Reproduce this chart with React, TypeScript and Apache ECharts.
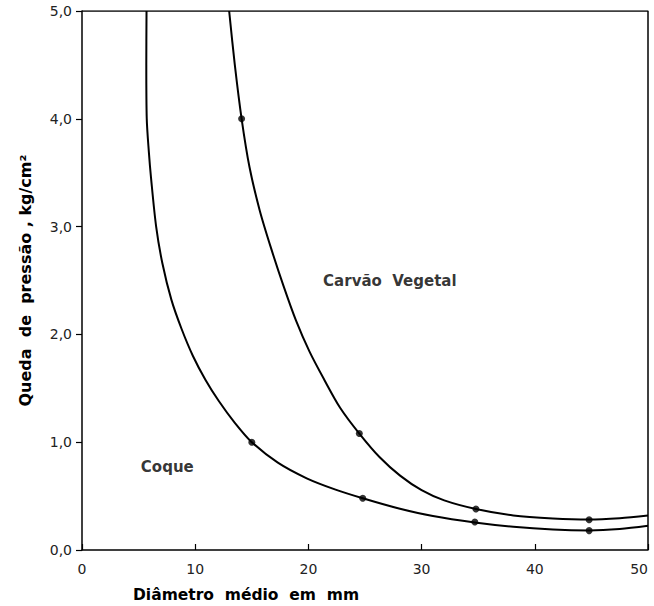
import React, { useEffect, useRef } from "react";
import * as echarts from "echarts";

const xTicks = [0, 10, 20, 30, 40, 50];
const yTicks = [0, 1, 2, 3, 4, 5];

const coqueCurve: [number, number][] = [
  [5.7, 5.0], [5.68, 4.5], [5.72, 4.0], [5.9, 3.7], [6.1, 3.45], [6.55, 3.0],
  [7.1, 2.66], [7.9, 2.32], [8.8, 2.05], [9.8, 1.8], [10.9, 1.58], [12.1, 1.38],
  [13.5, 1.18], [15.0, 1.0], [17.3, 0.81], [19.85, 0.665], [22.4, 0.56], [24.8, 0.48],
  [28.0, 0.385], [31.0, 0.315], [34.7, 0.255], [38.1, 0.215], [41.6, 0.19], [44.8, 0.182],
  [47.5, 0.195], [50.0, 0.225],
];

const carvaoCurve: [number, number][] = [
  [13.0, 5.0], [13.5, 4.5], [14.1, 4.0], [14.8, 3.55], [15.7, 3.15], [16.7, 2.8],
  [17.8, 2.45], [18.9, 2.13], [20.1, 1.84], [21.4, 1.58], [22.8, 1.32], [24.5, 1.08],
  [26.3, 0.86], [28.1, 0.69], [30.0, 0.555], [32.0, 0.46], [34.8, 0.38], [38.1, 0.32],
  [41.6, 0.292], [44.8, 0.282], [47.5, 0.295], [50.0, 0.32],
];

const coquePoints: [number, number][] = [[15, 1.0], [24.8, 0.48], [34.7, 0.26], [44.8, 0.18]];
const carvaoPoints: [number, number][] = [[14.1, 4.0], [24.5, 1.08], [34.8, 0.38], [44.8, 0.28]];

const curveLabels: { name: string; pos: [number, number] }[] = [
  { name: "Carvão  Vegetal", pos: [21.3, 2.5] },
  { name: "Coque", pos: [5.2, 0.77] },
];

const xTitle = "Diâmetro  médio  em  mm";
const yTitle = "Queda  de  pressão , kg/cm²";

export default function App() {
  const ref = useRef<HTMLDivElement>(null);
  useEffect(() => {
    if (!ref.current) return;
    document.body.style.margin = "0";
    document.body.style.overflow = "hidden";
    const chart = echarts.init(ref.current, null, { renderer: "svg" });
    const font = "'DejaVu Sans', sans-serif";
    chart.setOption({
      animation: false,
      backgroundColor: "#fff",
      grid: { left: 82, right: 6, top: 11, bottom: 56, containLabel: false, outerBoundsMode: "none" },
      xAxis: {
        type: "value",
        min: xTicks[0],
        max: xTicks[xTicks.length - 1],
        interval: 10,
        axisLine: { show: true, onZero: false, lineStyle: { color: "#000", width: 1.5 } },
        axisTick: { show: true, inside: true, length: 6, lineStyle: { color: "#000", width: 1.2 } },
        axisLabel: { color: "#222", fontFamily: font, fontSize: 14, margin: 12, alignMaxLabel: "right" },
        splitLine: { show: false },
      },
      yAxis: {
        type: "value",
        min: yTicks[0],
        max: yTicks[yTicks.length - 1],
        interval: 1,
        axisLine: { show: true, onZero: false, lineStyle: { color: "#000", width: 1.5 } },
        axisTick: { show: true, inside: false, length: 6, lineStyle: { color: "#000", width: 1.2 } },
        axisLabel: {
          color: "#222", fontFamily: font, fontSize: 14, margin: 10,
          formatter: (v: number) => v.toFixed(1).replace(".", ","),
        },
        splitLine: { show: false },
        name: yTitle,
        nameLocation: "middle",
        nameGap: 49,
        nameRotate: 90,
        nameTextStyle: { color: "#000", fontFamily: font, fontSize: 16, fontWeight: "bold" },
      },
      graphic: [
        {
          type: "text",
          x: 133,
          y: 595,
          style: {
            text: xTitle,
            fill: "#000",
            font: "bold 15.5px 'DejaVu Sans', sans-serif",
            verticalAlign: "middle",
            align: "left",
          },
        },
      ],
      series: [
        {
          type: "line", data: coqueCurve, smooth: 0.3, showSymbol: false, symbol: "none",
          lineStyle: { color: "#000", width: 2 }, z: 2,
        },
        {
          type: "line", data: carvaoCurve, smooth: 0.3, showSymbol: false, symbol: "none",
          lineStyle: { color: "#000", width: 2 }, z: 2,
        },
        {
          type: "scatter", data: [...coquePoints, ...carvaoPoints], symbolSize: 7,
          itemStyle: { color: "#000" }, z: 3,
        },
        {
          type: "scatter",
          data: curveLabels.map((l) => ({ value: l.pos, name: l.name })),
          symbolSize: 0,
          label: {
            show: true, position: "right", distance: 0, formatter: (p: any) => p.name,
            color: "#000", fontFamily: font, fontSize: 15, fontWeight: "bold",
          },
        },
        {
          type: "line", data: [[0, 5], [50, 5], [50, 0]], symbol: "none", silent: true,
          lineStyle: { color: "#000", width: 1.5 },
        },
      ],
    });
    return () => chart.dispose();
  }, []);
  return <div ref={ref} style={{ width: 654, height: 606 }} />;
}
